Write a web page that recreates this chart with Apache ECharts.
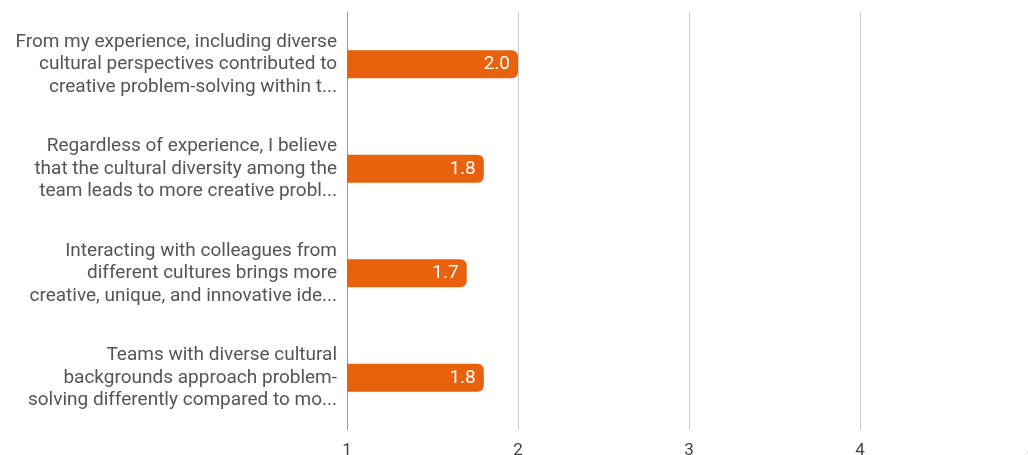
<!DOCTYPE html>
<html>
<head>
<meta charset="utf-8">
<script src="https://cdn.jsdelivr.net/npm/echarts@6/dist/echarts.min.js"></script>
<style>
  html, body { margin: 0; padding: 0; background: #fff; }
  #main { width: 1028px; height: 455px; }
</style>
</head>
<body>
<div id="main"></div>
<script>
// statements (already wrapped / cut like in the picture)
var categories = [
	"From my experience, including diverse\ncultural perspectives contributed to\ncreative problem-solving within t...",
	"Regardless of experience, I believe\nthat the cultural diversity among the\nteam leads to more creative probl...",
	"Interacting with colleagues from\ndifferent cultures brings more\ncreative, unique, and innovative ide...",
	"Teams with diverse cultural\nbackgrounds approach problem-\nsolving differently compared to mo..."
];
var values = [2.0, 1.8, 1.7, 1.8];
var xTicks = [1, 2, 3, 4, 5];

var myChart = echarts.init(document.getElementById('main'));
var option = {
	backgroundColor : '#ffffff',
	animation : false,
	grid : {
		left : 347,
		top : 12,
		width : 684,
		height : 418,
		containLabel : false,
		outerBoundsMode : 'none'
	},
	xAxis : {
		type : 'value',
		min : xTicks[0],
		max : xTicks[xTicks.length - 1],
		interval : 1,
		axisLine : { show : false },
		axisTick : { show : false },
		axisLabel : {
			color : '#444',
			fontFamily : 'Roboto',
			fontSize : 17,
			margin : 12,
			showMaxLabel : true
		},
		splitLine : { lineStyle : { color : '#cccccc', width : 1 } }
	},
	yAxis : {
		type : 'category',
		inverse : true,
		data : categories,
		axisLine : { show : true, lineStyle : { color : '#999', width : 1 } },
		axisTick : { show : false },
		axisLabel : {
			color : '#555',
			fontFamily : 'Roboto',
			fontSize : 19,
			lineHeight : 22.5,
			margin : 10,
			align : 'right'
		}
	},
	series : [ {
		type : 'bar',
		data : values,
		barWidth : 28,
		itemStyle : {
			color : '#e8620e',
			borderRadius : [ 0, 6, 6, 0 ]
		},
		label : {
			show : true,
			position : 'insideRight',
			distance : 8,
			color : '#fff',
			fontFamily : 'Roboto',
			fontSize : 19,
			formatter : function(p) { return p.value.toFixed(1); }
		}
	} ]
};
myChart.setOption(option, true);
</script>
</body>
</html>
